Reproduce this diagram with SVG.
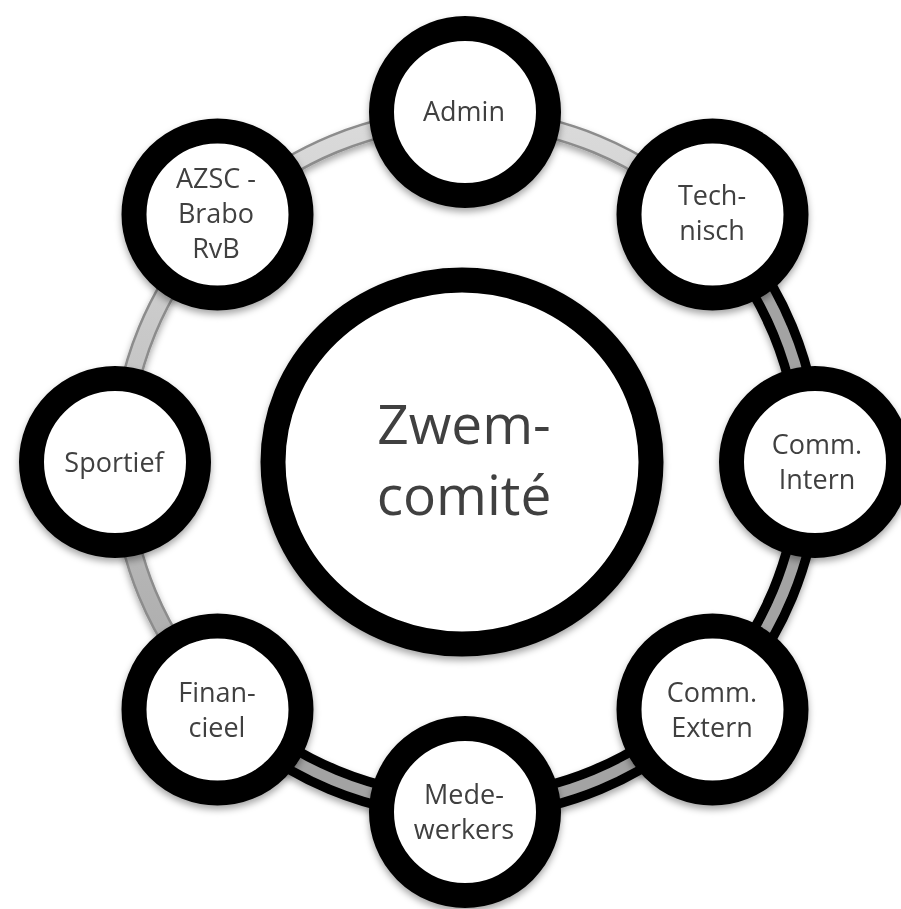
<svg xmlns="http://www.w3.org/2000/svg" width="901" height="909" viewBox="0 0 901 909">
<defs>
  <filter id="shadow" x="-20%" y="-20%" width="140%" height="140%">
    <feDropShadow dx="0" dy="4" stdDeviation="3.5" flood-color="#000" flood-opacity="0.35"/>
  </filter>
  <linearGradient id="lightGrad" gradientUnits="userSpaceOnUse" x1="0" y1="100" x2="0" y2="720">
    <stop offset="0" stop-color="#dcdcdc"/>
    <stop offset="1" stop-color="#a8a8a8"/>
  </linearGradient>
  <radialGradient id="ringShade" cx="50%" cy="50%" r="50%">
    <stop offset="0.74" stop-color="#3a3a3a"/>
    <stop offset="0.80" stop-color="#000"/>
    <stop offset="1" stop-color="#000"/>
  </radialGradient>
</defs>
<style>
  .ring { fill: #fff; stroke: #000; stroke-width: 25; }
  .center { fill: #fff; stroke: #000; stroke-width: 25; }
  .lbl { font-family: "Open Sans", "Liberation Sans", sans-serif; font-size: 27px; fill: #3f3f3f; text-anchor: middle; }
  .big { font-family: "Open Sans", "Liberation Sans", sans-serif; font-size: 55px; fill: #3f3f3f; text-anchor: middle; }
  .lightOut { fill: none; stroke: #8c8c8c; stroke-width: 20; }
  .lightIn { fill: none; stroke: url(#lightGrad); stroke-width: 15; }
  .darkOut { fill: none; stroke: #000; stroke-width: 30; }
  .darkIn { fill: none; stroke: #a3a3a3; stroke-width: 11; }
</style>
<rect width="901" height="909" fill="#fff"/>

<g id="connectors" filter="url(#shadow)">
  <!-- light connectors -->
  <path class="lightOut" d="M465,118 A344,344 0 0 1 708.24,218.76"/>
  <path class="lightIn" d="M465,118 A344,344 0 0 1 708.24,218.76"/>
  <path class="lightOut" d="M221.76,705.24 A344,344 0 0 1 121,462"/>
  <path class="lightIn" d="M221.76,705.24 A344,344 0 0 1 121,462"/>
  <path class="lightOut" d="M121,462 A344,344 0 0 1 221.76,218.76"/>
  <path class="lightIn" d="M121,462 A344,344 0 0 1 221.76,218.76"/>
  <path class="lightOut" d="M221.76,218.76 A344,344 0 0 1 465,118"/>
  <path class="lightIn" d="M221.76,218.76 A344,344 0 0 1 465,118"/>
  <!-- dark connectors -->
  <path class="darkOut" d="M708.24,218.76 A344,344 0 0 1 809,462"/>
  <path class="darkIn" d="M708.24,218.76 A344,344 0 0 1 809,462"/>
  <path class="darkOut" d="M809,462 A344,344 0 0 1 708.24,705.24"/>
  <path class="darkIn" d="M809,462 A344,344 0 0 1 708.24,705.24"/>
  <path class="darkOut" d="M708.24,705.24 A344,344 0 0 1 465,806"/>
  <path class="darkIn" d="M708.24,705.24 A344,344 0 0 1 465,806"/>
  <path class="darkOut" d="M465,806 A344,344 0 0 1 221.76,705.24"/>
  <path class="darkIn" d="M465,806 A344,344 0 0 1 221.76,705.24"/>
</g>

<g id="zwemcomite" filter="url(#shadow)">
  <ellipse class="center" cx="462" cy="462" rx="189" ry="182"/>
  <text class="big" x="464" y="444">Zwem-</text>
  <text class="big" x="464" y="515">comité</text>
</g>

<g id="admin" filter="url(#shadow)">
  <circle class="ring" cx="465" cy="112" r="83.5"/>
  <text class="lbl" x="464" y="121">Admin</text>
</g>

<g id="technisch" filter="url(#shadow)">
  <circle class="ring" cx="712.5" cy="214.5" r="83.5"/>
  <text class="lbl" x="712" y="205">Tech-</text>
  <text class="lbl" x="712" y="240">nisch</text>
</g>

<g id="comm-intern" filter="url(#shadow)">
  <circle class="ring" cx="815" cy="462" r="83.5"/>
  <text class="lbl" x="817" y="454">Comm.</text>
  <text class="lbl" x="817" y="489">Intern</text>
</g>

<g id="comm-extern" filter="url(#shadow)">
  <circle class="ring" cx="712.5" cy="709.5" r="83.5"/>
  <text class="lbl" x="712" y="702">Comm.</text>
  <text class="lbl" x="712" y="737">Extern</text>
</g>

<g id="medewerkers" filter="url(#shadow)">
  <circle class="ring" cx="465" cy="812" r="83.5"/>
  <text class="lbl" x="464" y="804">Mede-</text>
  <text class="lbl" x="464" y="839">werkers</text>
</g>

<g id="financieel" filter="url(#shadow)">
  <circle class="ring" cx="217.5" cy="709.5" r="83.5"/>
  <text class="lbl" x="217" y="702">Finan-</text>
  <text class="lbl" x="217" y="737">cieel</text>
</g>

<g id="sportief" filter="url(#shadow)">
  <circle class="ring" cx="115" cy="462" r="83.5"/>
  <text class="lbl" x="114" y="472">Sportief</text>
</g>

<g id="azsc-brabo-rvb" filter="url(#shadow)">
  <circle class="ring" cx="217.5" cy="214.5" r="83.5"/>
  <text class="lbl" x="216" y="188">AZSC -</text>
  <text class="lbl" x="216" y="223">Brabo</text>
  <text class="lbl" x="216" y="258">RvB</text>
</g>
</svg>
